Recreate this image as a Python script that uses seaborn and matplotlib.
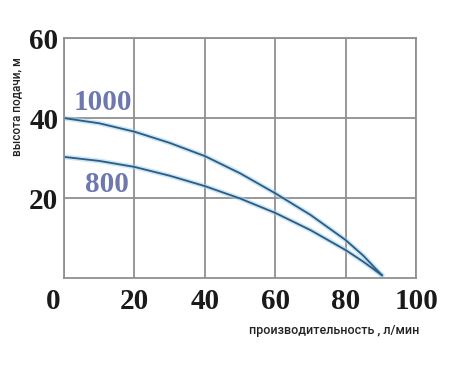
import matplotlib
matplotlib.use('Agg')
import matplotlib.pyplot as plt
import seaborn as sns
import pandas as pd

# данные кривых (производительность, л/мин -> высота подачи, м)
flow = [0, 10, 20, 30, 40, 50, 60, 70, 80, 85, 90.3]
head_1000 = [40.0, 38.7, 36.6, 33.8, 30.5, 26.2, 21.2, 15.8, 9.5, 5.6, 0.7]
head_800 = [30.3, 29.3, 27.8, 25.6, 23.0, 19.9, 16.3, 12.0, 7.0, 4.1, 0.7]

x_ticks = [0, 20, 40, 60, 80, 100]
y_ticks = [20, 40, 60]

df = pd.concat([
    pd.DataFrame({'flow': flow, 'head': head_1000, 'curve': '1000'}),
    pd.DataFrame({'flow': flow, 'head': head_800, 'curve': '800'}),
])

sns.set_style('white')
plt.rcParams['font.family'] = ['DejaVu Sans']

fig = plt.figure(figsize=(4.64, 3.66), dpi=100)
ax = fig.add_axes([0.138, 0.240, 0.759, 0.656])

# лёгкое голубое свечение под линией
sns.lineplot(data=df, x='flow', y='head', units='curve', estimator=None,
             color='#9fd0f2', linewidth=3.5, alpha=0.55, ax=ax)
sns.lineplot(data=df, x='flow', y='head', units='curve', estimator=None,
             color='#2c5c80', linewidth=1.3, ax=ax)

ax.set_xlim(0, 100)
ax.set_ylim(0, 60)
ax.set_xticks(x_ticks)
ax.set_yticks(y_ticks)
ax.grid(True, color='#909090', linewidth=1.3)
for s in ax.spines.values():
    s.set_color('#909090')
    s.set_linewidth(1.3)
ax.tick_params(axis='x', length=0, pad=7)
ax.tick_params(axis='y', length=0, pad=4)
ax.set_xticklabels(['0   '] + [str(t) for t in x_ticks[1:]])
for lab in ax.get_xticklabels() + ax.get_yticklabels():
    lab.set_family('Liberation Serif')
    lab.set_fontweight('bold')
    lab.set_fontsize(21)
    lab.set_color('#1a1a1a')
ax.set_xlabel('')
ax.set_ylabel('')

ax.text(2.6, 42, '1000', family='Liberation Serif', fontweight='bold',
        fontsize=21, color='#6f77b0', ha='left', va='baseline')
ax.text(5.9, 21.6, '800', family='Liberation Serif', fontweight='bold',
        fontsize=21, color='#6f77b0', ha='left', va='baseline')

fig.text(0.035, 0.71, 'высота подачи, м', rotation=90, ha='center', va='center',
         fontsize=8.5, family='Roboto', fontweight='medium', color='#222222')
fig.text(0.72, 0.097, 'производительность , л/мин', ha='center', va='center',
         fontsize=9, family='Roboto', fontweight='medium', color='#222222')

fig.savefig('out.png', dpi=100)
